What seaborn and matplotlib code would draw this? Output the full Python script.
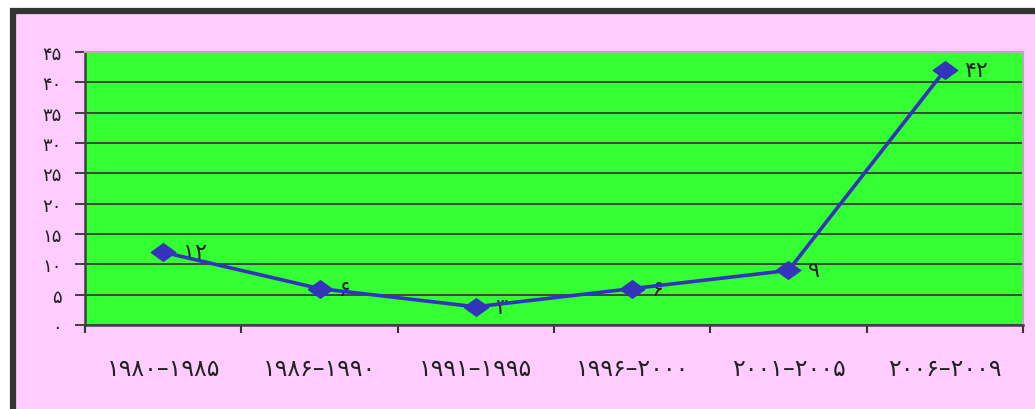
import matplotlib
matplotlib.use("Agg")
import matplotlib.pyplot as plt
import seaborn as sns
import pandas as pd
from matplotlib.patches import Rectangle

## data
periods = ['۱۹۸۰–۱۹۸۵', '۱۹۸۶–۱۹۹۰', '۱۹۹۱–۱۹۹۵', '۱۹۹۶–۲۰۰۰', '۲۰۰۱–۲۰۰۵', '۲۰۰۶–۲۰۰۹']
counts = [12, 6, 3, 6, 9, 42]
count_labels = ['۱۲', '۶', '۳', '۶', '۹', '۴۲']
y_ticks = [0, 5, 10, 15, 20, 25, 30, 35, 40, 45]
y_tick_labels = ['۰', '۵', '۱۰', '۱۵', '۲۰', '۲۵', '۳۰', '۳۵', '۴۰', '۴۵']

df = pd.DataFrame({'period': periods, 'count': counts})
df['pos'] = range(len(df))

sns.set_theme(style="white")
plt.rcParams['font.family'] = ['DejaVu Sans']

W, H = 1035, 410
fig = plt.figure(figsize=(W / 100, H / 100), dpi=100, facecolor='white')

## pink outer panel with a dark frame on left and top
fig.patches.append(Rectangle((13 / W, -0.2), 1.2, 1 - 12 / H + 0.2, transform=fig.transFigure,
                             facecolor='#FFCCFF', edgecolor='#333333', linewidth=4.5, zorder=-10))

ax = fig.add_axes([85 / W, 1 - 326 / H, (1023 - 85) / W, (326 - 53) / H])
ax.set_facecolor('#33FF33')

## flattened diamond like the original marker
diamond = [(-1, 0), (0, 0.72), (1, 0), (0, -0.72), (-1, 0)]
sns.lineplot(data=df, x='pos', y='count', ax=ax, color='#3333BB', linewidth=2.6,
             marker=diamond, markersize=18, markeredgecolor='#3333BB', zorder=5)

for i, lab in enumerate(count_labels):
    ax.annotate(lab, (df['pos'][i], counts[i]), xytext=(14, 0), textcoords='offset points',
                ha='left', va='center', fontsize=16, color='#222222')

ax.set_xlim(-0.5, len(periods) - 0.5)
ax.set_ylim(0, 45)
ax.set_yticks(y_ticks)
ax.set_yticklabels(y_tick_labels, fontsize=13, color='#222222')
ax.yaxis.grid(True, color='#3a3a3a', linewidth=1.3)
ax.set_axisbelow(True)

## category ticks sit on the boundaries, labels centered below
ax.set_xticks([i - 0.5 for i in range(len(periods) + 1)])
ax.set_xticklabels([])
ax.set_xticks(range(len(periods)), minor=True)
ax.set_xticklabels(periods, minor=True, fontsize=17, color='#222222')
ax.tick_params(axis='x', which='minor', bottom=True, length=0, pad=22)
ax.tick_params(axis='x', which='major', bottom=True, length=6, width=1.5, color='#333333', direction='out')
ax.tick_params(axis='y', left=True, length=7, width=1.3, color='#333333', direction='out', pad=10)
ax.set_xlabel('')
ax.set_ylabel('')

for side in ['left', 'bottom']:
    ax.spines[side].set_color('#404040')
    ax.spines[side].set_linewidth(1.8)
for side in ['top', 'right']:
    ax.spines[side].set_color('#b0b0b0')
    ax.spines[side].set_linewidth(1.5)

fig.savefig('out.png', dpi=100)
